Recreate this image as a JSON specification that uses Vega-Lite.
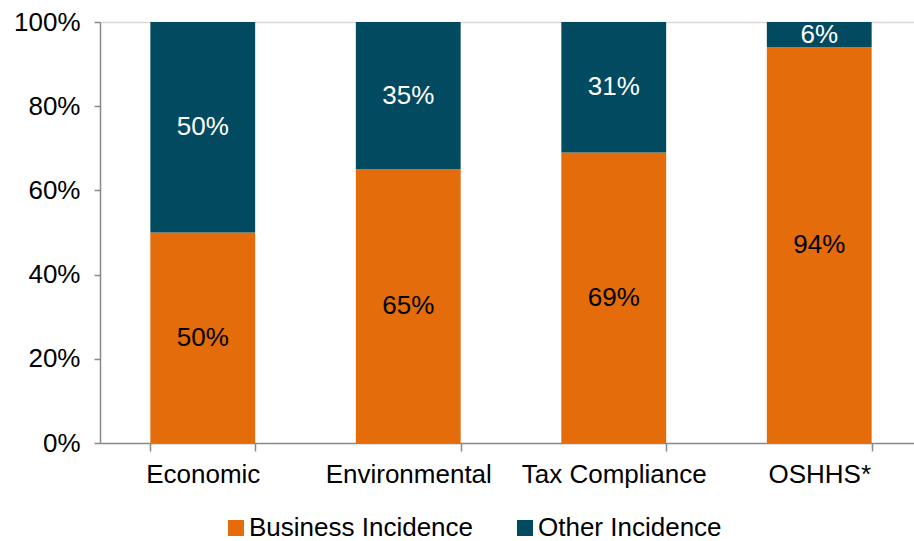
{
  "$schema": "https://vega.github.io/schema/vega-lite/v6.json",
  "width": 822,
  "height": 421,
  "autosize": {"type": "none"},
  "padding": {"left": 100, "top": 22, "right": 0, "bottom": 98},
  "background": "white",
  "config": {"view": {"stroke": null}, "font": "Liberation Sans"},
  "data": {
    "values": [
      {"Category": "Economic", "Type": "Business Incidence", "Value": 0.50},
      {"Category": "Economic", "Type": "Other Incidence", "Value": 0.50},
      {"Category": "Environmental", "Type": "Business Incidence", "Value": 0.65},
      {"Category": "Environmental", "Type": "Other Incidence", "Value": 0.35},
      {"Category": "Tax Compliance", "Type": "Business Incidence", "Value": 0.69},
      {"Category": "Tax Compliance", "Type": "Other Incidence", "Value": 0.31},
      {"Category": "OSHHS*", "Type": "Business Incidence", "Value": 0.94},
      {"Category": "OSHHS*", "Type": "Other Incidence", "Value": 0.06}
    ]
  },
  "transform": [
    {"stack": "Value", "groupby": ["Category"], "sort": [{"field": "Type"}], "as": ["v0", "v1"]},
    {"calculate": "(datum.v0 + datum.v1) / 2", "as": "mid"}
  ],
  "encoding": {
    "x": {
      "field": "Category",
      "type": "nominal",
      "sort": ["Economic", "Environmental", "Tax Compliance", "OSHHS*"],
      "scale": {"paddingInner": 0.49, "paddingOuter": 0.245},
      "axis": {
        "title": null,
        "labelAngle": 0,
        "labelFontSize": 26,
        "labelColor": "black",
        "labelPadding": 10,
        "labelLimit": 0,
        "tickBand": "extent",
        "tickSize": 8,
        "tickColor": "#898989",
        "domainColor": "#898989",
        "domainWidth": 1.5,
        "tickWidth": 1.5
      }
    }
  },
  "layer": [
    {
      "mark": {"type": "bar"},
      "encoding": {
        "y": {
          "field": "v0",
          "type": "quantitative",
          "scale": {"domain": [0, 1]},
          "axis": {
            "title": null,
            "format": ".0%",
            "values": [0, 0.2, 0.4, 0.6, 0.8, 1],
            "labelFontSize": 26,
            "labelColor": "black",
            "labelPadding": 14,
            "tickSize": 6,
            "tickColor": "#898989",
            "domainColor": "#898989",
            "domainWidth": 1.5,
            "tickWidth": 1.5,
            "grid": true,
            "gridColor": "#D9D9D9",
            "gridWidth": 1.5,
            "gridOpacity": {"condition": {"test": "datum.value === 1", "value": 1}, "value": 0}
          }
        },
        "y2": {"field": "v1"},
        "color": {
          "field": "Type",
          "type": "nominal",
          "scale": {"domain": ["Business Incidence", "Other Incidence"], "range": ["#E46C0A", "#024A60"]},
          "legend": {
            "title": null,
            "orient": "none",
            "direction": "horizontal",
            "legendX": 123,
            "legendY": 493,
            "symbolType": "square",
            "symbolSize": 256,
            "symbolStrokeWidth": 0,
            "symbolOpacity": 1,
            "labelFontSize": 26,
            "labelColor": "black",
            "labelOffset": 0,
            "labelLimit": 0,
            "columnPadding": 38
          }
        }
      }
    },
    {
      "mark": {"type": "text", "fontSize": 26, "baseline": "middle", "align": "center"},
      "encoding": {
        "y": {"field": "mid", "type": "quantitative"},
        "text": {"field": "Value", "type": "quantitative", "format": ".0%"},
        "color": {"condition": {"test": "datum.Type === 'Other Incidence'", "value": "white"}, "value": "black"}
      }
    }
  ]
}
